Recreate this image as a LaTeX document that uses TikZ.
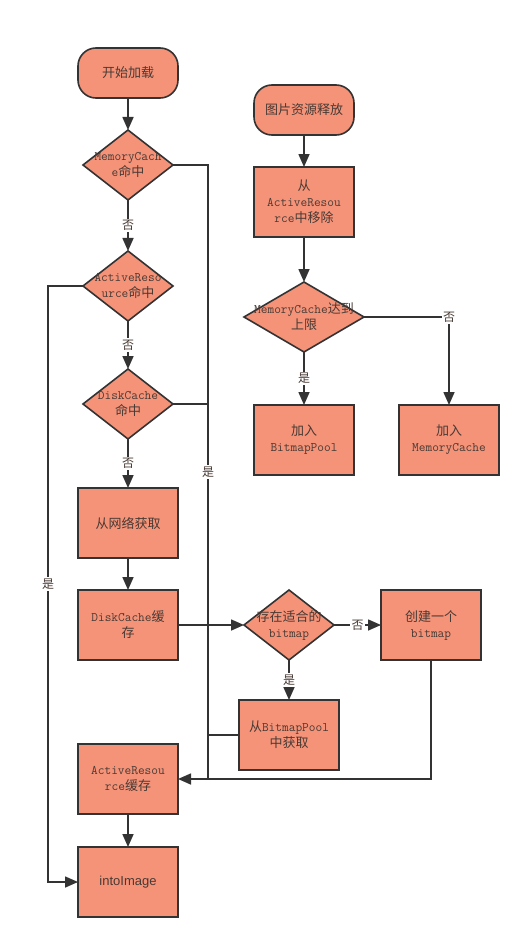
\documentclass[tikz,border=0pt]{standalone}
\usepackage{fontspec}
\newfontfamily\cjk{Noto Sans CJK SC}
\newfontfamily\arialfont{Liberation Sans}
\newcommand{\zh}[1]{{\cjk #1}}
\usetikzlibrary{positioning,arrows.meta,shapes.geometric}
\definecolor{SalmonFill}{RGB}{245,147,121}
\definecolor{EdgeGray}{RGB}{51,51,51}
\definecolor{TextGray}{RGB}{72,58,52}
\tikzset{
  flow/.style={-{Triangle[length=13pt,width=11pt]},line width=1.6pt,draw=EdgeGray},
  link/.style={line width=1.6pt,draw=EdgeGray},
  termbox/.style={draw=EdgeGray,line width=1.6pt,fill=SalmonFill,rounded corners=18pt,
    minimum width=100pt,minimum height=50pt,align=center,outer sep=0pt,
    font=\fontsize{13}{16}\selectfont\ttfamily,text=TextGray},
  procbox/.style={draw=EdgeGray,line width=1.6pt,fill=SalmonFill,outer sep=0pt,
    minimum width=100pt,minimum height=70pt,align=center,
    font=\fontsize{13}{16}\selectfont\ttfamily,text=TextGray},
  decbox/.style={diamond,draw=EdgeGray,line width=1.6pt,fill=SalmonFill,outer sep=0pt,
    minimum width=90pt,minimum height=70pt,inner sep=0pt},
  dectext/.style={align=center,font=\fontsize{13}{16}\selectfont\ttfamily,text=TextGray},
  yn/.style={fill=white,inner sep=1.5pt,font=\fontsize{12}{12}\selectfont\cjk,text=TextGray}
}
\begin{document}
\begin{tikzpicture}[x=1pt,y=-1pt]
  \useasboundingbox[fill=white] (0,0) rectangle (531,947);
  % loading flow
  \node[termbox] (start) at (128,73) {\zh{开始加载}};
  \node[decbox,below=32pt of start,label={[dectext]center:{MemoryCach\\e\zh{命中}}}] (mc) {};
  \node[decbox,below=51pt of mc,label={[dectext]center:{ActiveReso\\urce\zh{命中}}}] (ar) {};
  \node[decbox,below=48pt of ar,label={[dectext]center:{DiskCache\\\zh{命中}}}] (dc) {};
  \node[procbox,below=49pt of dc] (net) {\zh{从网络获取}};
  \node[procbox,below=32pt of net] (dcsave) {DiskCache\zh{缓}\\\zh{存}};
  \node[procbox,below=84pt of dcsave] (arsave) {ActiveResou\\rce\zh{缓存}};
  \node[procbox,below=33pt of arsave] (into) {\arialfont intoImage};
  \node[decbox,right=66pt of dcsave,label={[dectext]center:{\zh{存在适合的}\\bitmap}}] (fit) {};
  \node[procbox,right=47pt of fit] (create) {\zh{创建一个}\\bitmap};
  \node[procbox,below=40pt of fit] (getpool) {\zh{从}BitmapPool\\\zh{中获取}};
  % release flow
  \node[termbox] (release) at (304,110) {\zh{图片资源释放}};
  \node[procbox,below=32pt of release] (remove) {\zh{从}\\ActiveResou\\rce\zh{中移除}};
  \node[decbox,minimum width=120pt,below=45pt of remove,
    label={[dectext]center:{MemoryCache\zh{达到}\\\zh{上限}}}] (full) {};
  \node[procbox,below=53pt of full] (pool) {\zh{加入}\\BitmapPool};
  \node[procbox,right=45pt of pool] (addmc) {\zh{加入}\\MemoryCache};

  \draw[flow] (start) -- (mc);
  \draw[flow] (mc) -- node[yn] {否} (ar);
  \draw[flow] (ar) -- node[yn] {否} (dc);
  \draw[flow] (dc) -- node[yn] {否} (net);
  \draw[flow] (net) -- (dcsave);
  \draw[flow] (dcsave) -- (fit);
  \draw[flow] (fit) -- node[yn] {否} (create);
  \draw[flow] (fit) -- node[yn] {是} (getpool);
  \draw[flow] (arsave) -- (into);
  \draw[flow] (mc.east) -- ++(35,0) coordinate (bus) |- node[pos=0.25,yn] {是} (arsave.east);
  \draw[link] (dc.east) -- (bus |- dc.east);
  \draw[link] (getpool.west) -- (bus |- getpool.west);
  \draw[link] (create.south) |- (bus |- arsave.east);
  \draw[flow] (ar.west) -- ++(-35,0) |- node[pos=0.25,yn] {是} (into.west);
  \draw[flow] (release) -- (remove);
  \draw[flow] (remove) -- (full);
  \draw[flow] (full) -- node[yn] {是} (pool);
  \draw[flow] (full.east) -| node[pos=0.5,yn] {否} (addmc.north);
\end{tikzpicture}
\end{document}
